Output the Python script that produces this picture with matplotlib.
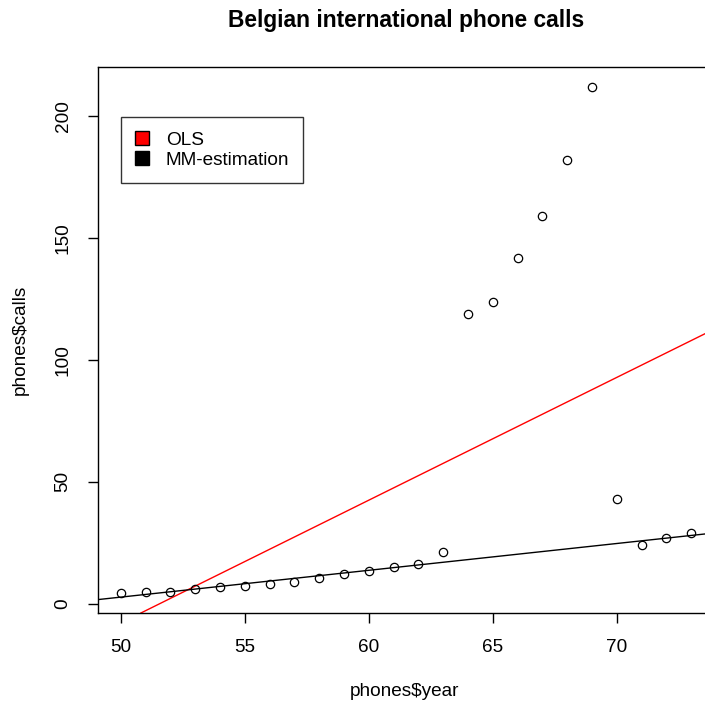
import numpy as np
import matplotlib
matplotlib.use("Agg")
import matplotlib.pyplot as plt
from matplotlib.patches import Patch

plt.rcParams['font.family'] = ['Liberation Sans', 'DejaVu Sans']

# Belgian international phone calls (millions), 1950-1973
year = np.arange(50, 74)
calls = np.array([4.4, 4.7, 4.7, 5.9, 6.6, 7.3, 8.1, 8.8, 10.6, 12.0, 13.5, 14.9,
                  16.1, 21.2, 119.0, 124.0, 142.0, 159.0, 182.0, 212.0, 43.0, 24.0,
                  27.0, 29.0])

# Robust MM-estimation fit (intercept, slope)
mm_coef = (-52.423, 1.1009)

# Ordinary least squares fit
ols_slope, ols_int = np.polyfit(year, calls, 1)

fig = plt.figure(figsize=(7.05, 7.04), dpi=100)
ax = fig.add_axes([98/705, 91/704, (714-98)/705, (613-67)/704])

ax.plot(year, calls, 'o', mfc='none', mec='black', ms=6, mew=0.9, zorder=3)
ax.axline((0, ols_int), slope=ols_slope, color='red', lw=1.0)
ax.axline((0, mm_coef[0]), slope=mm_coef[1], color='black', lw=1.0)

xr = year.max() - year.min()
ax.set_xlim(year.min() - 0.04*xr, year.max() + 0.04*xr)
ax.set_ylim(-3.9, 220.3)

ax.set_xticks([50, 55, 60, 65, 70])
ax.set_yticks([0, 50, 100, 150, 200])
ax.tick_params(direction='out', length=7, width=1, labelsize=13.7, pad=12)
for lab in ax.get_yticklabels():
    lab.set_rotation(90)
    lab.set_va('center')
for s in ax.spines.values():
    s.set_linewidth(1)

fig.text(406/705, 1-20/704, 'Belgian international phone calls', ha='center', va='center',
         fontsize=16.4, fontweight='bold')
fig.text(405/705, 1-692/704, 'phones$year', ha='center', va='center', fontsize=13.7)
fig.text(20/705, 1-340/704, 'phones$calls', ha='center', va='center', fontsize=13.7, rotation=90)

handles = [Patch(facecolor='red', edgecolor='black', label='OLS'),
           Patch(facecolor='black', edgecolor='black', label='MM-estimation')]
leg = ax.legend(handles=handles, loc='upper left', bbox_to_anchor=((121-98)/616, 1-(117-67)/546),
                fontsize=13.7, frameon=True, fancybox=False, edgecolor='black',
                handlelength=0.7, handleheight=0.7, handletextpad=0.9, borderpad=0.75,
                labelspacing=0.15, borderaxespad=0)
leg.get_frame().set_linewidth(1)

fig.savefig('out.png', dpi=100)
